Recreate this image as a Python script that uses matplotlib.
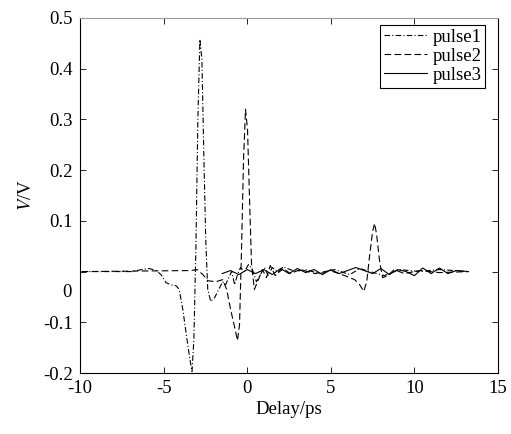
import matplotlib
matplotlib.use("Agg")
import matplotlib.pyplot as plt

# pulse data (delay in ps, voltage in V)
p1_x = [-9.9, -6.9, -6.3, -5.85, -5.45, -5.15, -4.85, -4.55, -4.25, -4.07, -3.85, -3.6,
        -3.42, -3.3, -3.19, -3.07, -2.95, -2.83, -2.71, -2.6, -2.48, -2.36, -2.18, -1.94,
        -1.7, -1.47, -1.29, -1.11, -0.93, -0.75, -0.58, -0.4, -0.16, 0.08, 0.31, 0.55,
        0.79, 1.03, 1.26, 1.5, 1.86, 2.27, 2.87, 3.46, 4.35, 5.24, 6.14, 6.73, 7.33,
        8.2, 9.1, 10.3, 11.5, 13.27]
p1_y = [0, 0, 0.004, 0.006, 0.002, -0.006, -0.022, -0.026, -0.028, -0.035, -0.075, -0.134,
        -0.174, -0.197, -0.134, 0.043, 0.30, 0.458, 0.418, 0.24, 0.063, -0.035, -0.059, -0.051,
        -0.035, -0.02, -0.026, -0.012, 0, -0.026, -0.006, 0.008, 0, 0.014, 0.004, -0.02,
        -0.006, 0.008, -0.008, 0.008, -0.002, 0.008, 0, 0.004, -0.004, 0.004, -0.006, 0.006, 0,
        -0.008, 0.004, 0, 0.004, 0]

p2_x = [-9.9, -3.37, -3.0, -2.65, -2.36, -1.88, -1.47, -1.23, -0.99, -0.75, -0.58, -0.46,
        -0.34, -0.22, -0.1, 0.02, 0.14, 0.26, 0.43, 0.67, 0.91, 1.15, 1.38, 1.68, 2.1,
        2.57, 3.17, 4.06, 4.95, 5.84, 6.43, 6.73, 6.97, 7.15, 7.33, 7.5, 7.62, 7.74, 7.92,
        8.1, 8.4, 8.8, 9.4, 10.3, 11.5, 13.27]
p2_y = [0, 0.002, 0.004, -0.006, -0.018, -0.02, -0.016, -0.035, -0.075, -0.11, -0.136, -0.105,
        0.043, 0.22, 0.32, 0.28, 0.142, 0.014, -0.035, -0.016, 0.004, -0.012, 0.012, -0.008, 0.008,
        -0.004, 0.004, -0.004, 0.002, -0.008, -0.016, -0.026, -0.039, -0.02, 0.034, 0.079, 0.095, 0.073, 0.02,
        -0.012, -0.008, 0.004, -0.004, 0.002, -0.002, 0]

p3_x = [-1.5, -1.0, -0.5, 0.0, 0.5, 1.0, 1.5, 2.0, 2.5, 3.0, 3.5, 4.0, 4.5, 5.0, 5.5, 6.0,
        6.5, 7.0, 7.5, 8.0, 8.5, 9.0, 9.5, 10.0, 10.5, 11.0, 11.5, 12.0, 12.5, 13.2]
p3_y = [-0.004, 0.002, -0.006, 0.004, -0.004, 0.004, -0.006, 0.006, -0.004, 0.006, -0.002, 0.004,
        -0.006, 0.004, -0.004, 0.002, 0.008, 0.002, -0.004, 0.006, -0.006, 0.004, 0, -0.008,
        0.007, -0.004, 0.007, -0.004, 0.002, 0]

x_ticks = [-10, -5, 0, 5, 10, 15]
y_ticks = [-0.2, -0.1, 0, 0.1, 0.2, 0.3, 0.4, 0.5]
y_labels = ['-0.2', '-0.1', '', '0.1', '0.2', '0.3', '0.4', '0.5']

plt.rcParams['font.family'] = ['Liberation Serif', 'DejaVu Serif']
plt.rcParams['mathtext.fontset'] = 'stix'

fig = plt.figure(figsize=(5.11, 4.34), dpi=100)
ax = fig.add_axes([80 / 511, 61 / 434, 418 / 511, 355 / 434])

ax.plot(p1_x, p1_y, color='black', lw=0.8, linestyle=(0, (5, 2, 1, 2)), label='pulse1')
ax.plot(p2_x, p2_y, color='black', lw=0.8, linestyle=(0, (6, 3)), label='pulse2')
ax.plot(p3_x, p3_y, color='black', lw=0.8, linestyle='-', label='pulse3')

ax.set_xlim(-10, 15)
ax.set_ylim(-0.2, 0.5)
ax.set_xticks(x_ticks)
ax.set_xticklabels([str(t) for t in x_ticks])
ax.set_yticks(y_ticks)
ax.set_yticklabels(y_labels)
ax.tick_params(direction='in', top=True, right=True, labelsize=13.5, length=4, width=0.6, pad=5)

# the "0" label sits a bit lower than its tick in the reference
ax.annotate('0', xy=(0, 0), xycoords=('axes fraction', 'data'), xytext=(-6, -15),
            textcoords='offset points', ha='right', va='center', fontsize=13.5)

for s in ['left', 'bottom', 'right']:
    ax.spines[s].set_linewidth(0.8)
ax.spines['top'].set_color('#999999')

ax.set_xlabel('Delay/ps', fontsize=13.5, labelpad=3)
ax.set_ylabel('$V$/V', fontsize=13.5, labelpad=6)

leg = ax.legend(loc='upper right', bbox_to_anchor=(0.969, 0.980), borderaxespad=0,
                fontsize=13.5, handlelength=2.3, handletextpad=0.3, labelspacing=0.1,
                borderpad=0.2, fancybox=False, framealpha=1)
leg.get_frame().set_edgecolor('black')
leg.get_frame().set_linewidth(0.8)

plt.savefig('out.png', dpi=100)
